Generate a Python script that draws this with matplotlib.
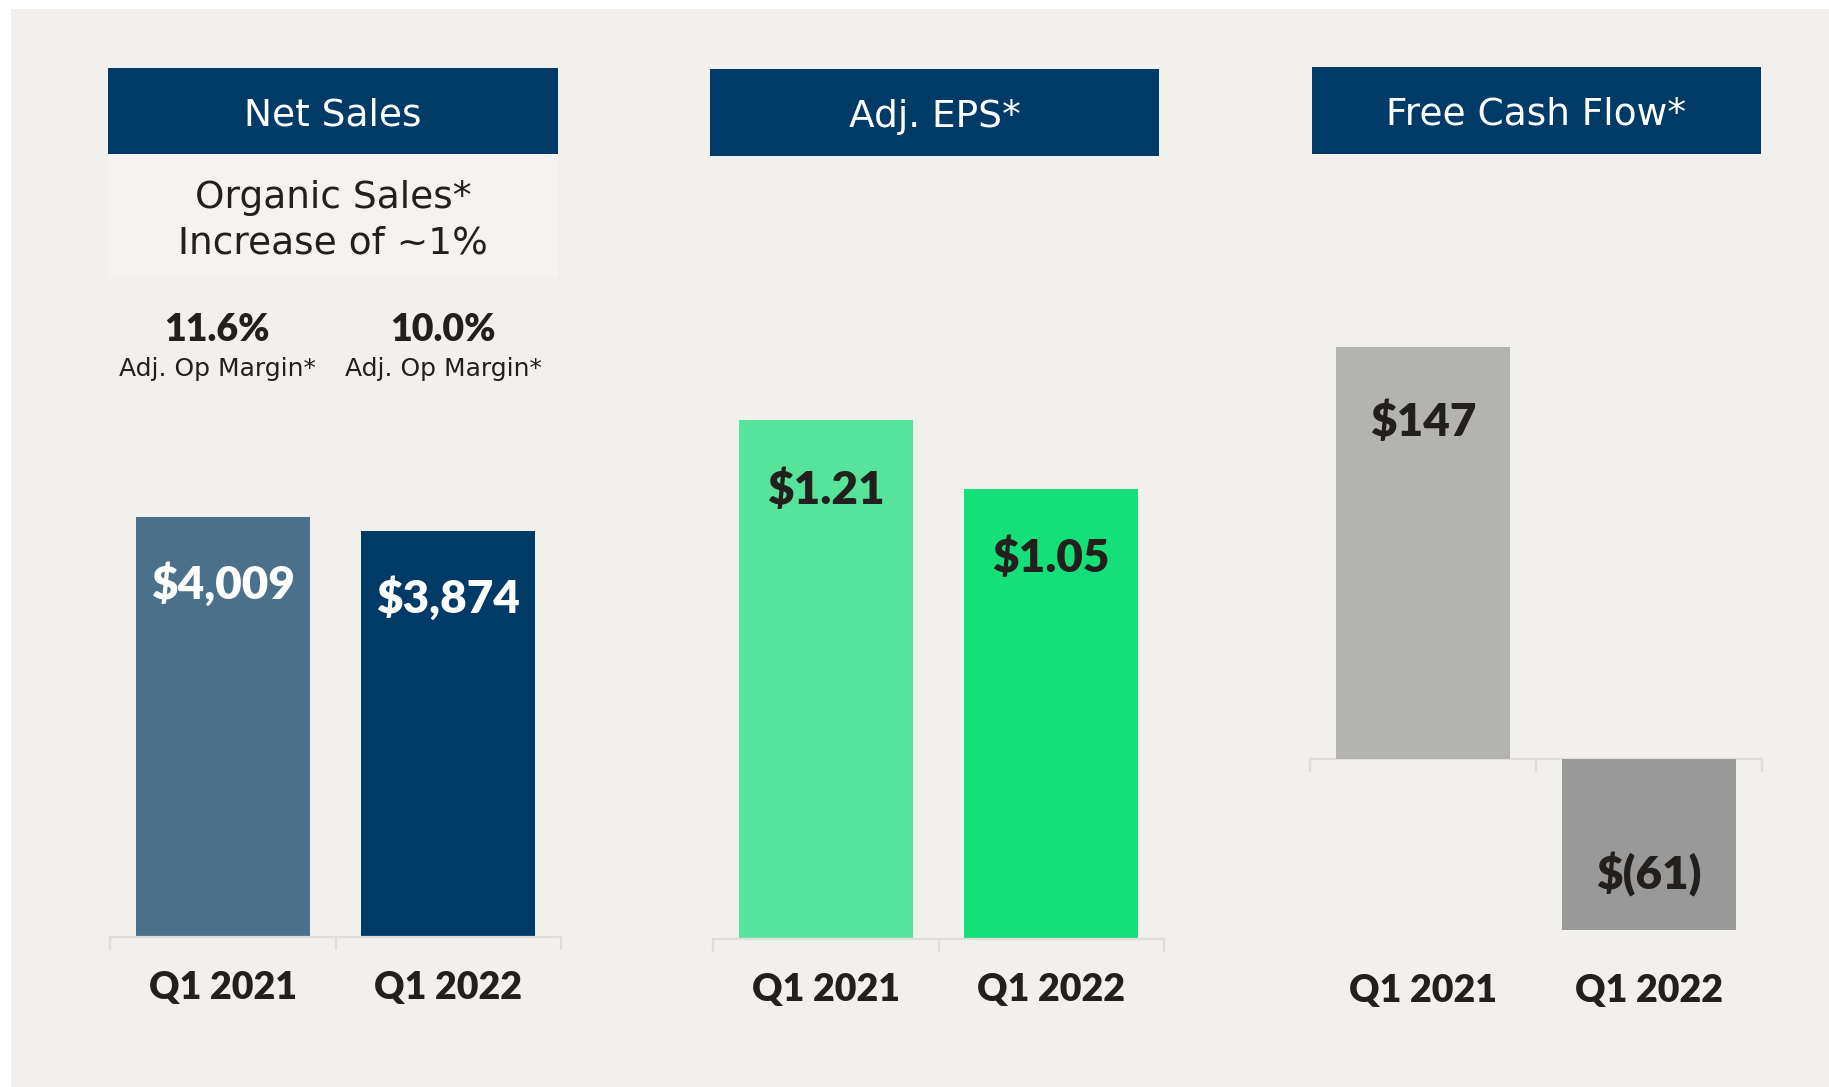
import matplotlib
matplotlib.use("Agg")
import matplotlib.pyplot as plt
from matplotlib.patches import Rectangle
from matplotlib.transforms import blended_transform_factory

plt.rcParams['font.family'] = ['DejaVu Sans']
BOLD = ['Lato', 'DejaVu Sans']
HEAVY = 'heavy'

# data
quarters = ['Q1 2021', 'Q1 2022']
net_sales = [4009, 3874]
net_sales_labels = ['$4,009', '$3,874']
adj_eps = [1.21, 1.05]
adj_eps_labels = ['$1.21', '$1.05']
fcf = [147, -61]
fcf_labels = ['$147', '$(61)']
op_margin = ['11.6%', '10.0%']
titles = ['Net Sales', 'Adj. EPS*', 'Free Cash Flow*']

W, H = 1829, 1087
BG = '#f1f0ec'
NAVY = '#003a66'
DARK = '#231f1c'
LINE = '#e2dcda'

fig = plt.figure(figsize=(W / 100, H / 100), dpi=100, facecolor='white')


def fx(px):
    return px / W


def fy(py):
    return 1 - py / H


def rect_px(x0, y0, x1, y1, color, z=-5):
    fig.patches.append(Rectangle((fx(x0), fy(y1)), fx(x1) - fx(x0), fy(y0) - fy(y1),
                                 transform=fig.transFigure, facecolor=color,
                                 edgecolor='none', zorder=z))


# panel background
rect_px(11, 9, W, H, BG, -10)

# header boxes
headers = [(108, 68, 558, 154, 125), (710, 69, 1159, 156, 127), (1312, 67, 1761, 154, 124)]
for (x0, y0, x1, y1, base), t in zip(headers, titles):
    rect_px(x0, y0, x1, y1, NAVY)
    fig.text(fx((x0 + x1) / 2), fy(base), t, color='white', fontsize=27,
             ha='center', va='baseline')

# organic sales box
rect_px(108, 154, 558, 278, '#f4f3f0')
fig.text(fx(333), fy(208), 'Organic Sales*', color=DARK, fontsize=27,
         ha='center', va='baseline')
fig.text(fx(333), fy(253), 'Increase of ~1%', color=DARK, fontsize=27,
         ha='center', va='baseline')

for xc, m in zip([217, 443], op_margin):
    fig.text(fx(xc), fy(341), m, color=DARK, fontsize=27, fontweight=HEAVY,
             family=BOLD, ha='center', va='baseline')
    fig.text(fx(xc), fy(376), 'Adj. Op Margin*', color=DARK, fontsize=18,
             ha='center', va='baseline')


def make_axes(x0, x1, ytop, ybot):
    ax = fig.add_axes([fx(x0), fy(ybot), fx(x1) - fx(x0), fy(ytop) - fy(ybot)])
    ax.set_facecolor('none')
    for s in ['top', 'left', 'right']:
        ax.spines[s].set_visible(False)
    ax.spines['bottom'].set_color(LINE)
    ax.spines['bottom'].set_linewidth(1.6)
    ax.set_xlim(-0.5, 1.5)
    ax.set_xticks([-0.5, 0.5, 1.5])
    ax.set_xticklabels([])
    ax.tick_params(axis='x', direction='out', length=9, width=1.6, color=LINE)
    ax.set_yticks([])
    return ax


def cat_labels(ax, base):
    tr = blended_transform_factory(ax.transData, fig.transFigure)
    for i, q in enumerate(quarters):
        ax.text(i, fy(base), q, transform=tr, ha='center', va='baseline',
                fontsize=27, fontweight=HEAVY, family=BOLD, color=DARK)


def value_labels(ax, vals, labels, color, off_pos, off_neg=41):
    for i, (v, lab) in enumerate(zip(vals, labels)):
        off = off_pos if v > 0 else off_neg
        ax.annotate(lab, (i, v), xytext=(0, off), textcoords='offset points',
                    ha='center', va='center', fontsize=33, fontweight=HEAVY,
                    family=BOLD, color=color, zorder=4)


# Net Sales
ax1 = make_axes(110, 561, 517, 937)
ax1.set_ylim(0, max(net_sales))
ax1.bar(range(2), net_sales, width=0.77, color=['#4a708c', NAVY])
value_labels(ax1, net_sales, net_sales_labels, 'white', -48)
cat_labels(ax1, 999)

# Adj. EPS
ax2 = make_axes(713, 1164, 420, 939)
ax2.set_ylim(0, max(adj_eps))
ax2.bar(range(2), adj_eps, width=0.77, color=['#57e39a', '#15df78'])
value_labels(ax2, adj_eps, adj_eps_labels, DARK, -50)
cat_labels(ax2, 1001)

# Free Cash Flow
ax3 = make_axes(1310, 1762, 347, 930)
ax3.set_ylim(min(fcf), max(fcf))
ax3.spines['bottom'].set_position(('data', 0))
ax3.bar(range(2), fcf, width=0.77, color=['#b3b3b1', '#999999'], zorder=3)
value_labels(ax3, fcf, fcf_labels, DARK, -54, 40)
cat_labels(ax3, 1002)

fig.savefig('out.png', dpi=100, facecolor='white')
